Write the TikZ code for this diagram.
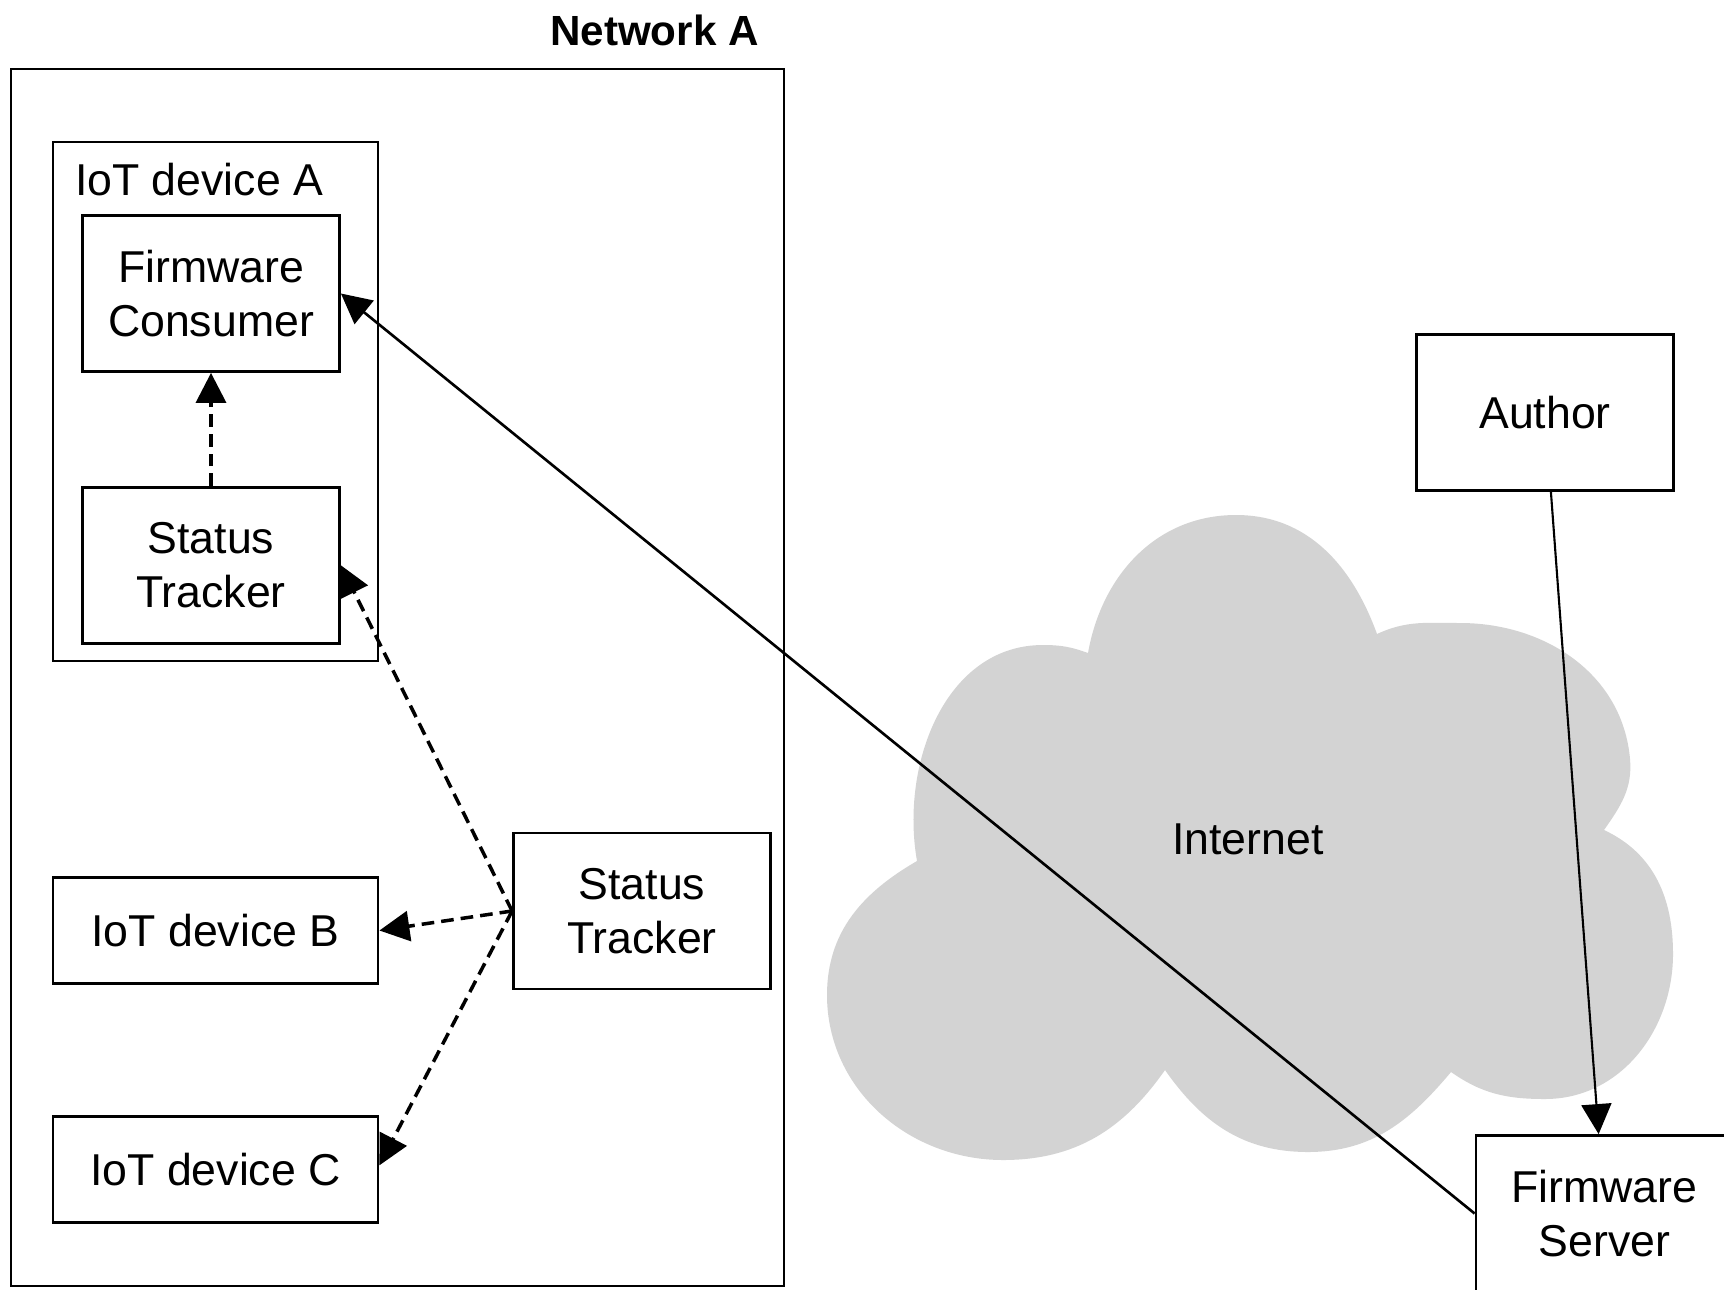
\documentclass[tikz,border=0pt]{standalone}
\usepackage{fontspec}
\setmainfont{Liberation Sans}
\usetikzlibrary{arrows.meta, positioning}

\definecolor{cloudgray}{RGB}{211,211,211}
\newcommand{\boxfont}{\fontsize{12.7}{15.3}\selectfont}

\begin{document}
\begin{tikzpicture}[> = {Triangle[length=3mm, width=3mm]}, % arrow head style
                node distance = 1.13cm, % gap between stacked boxes
                semithick % line style
            ]

            \tikzstyle{box}=[draw = black, thick, rectangle, align = center,
            inner sep = 0pt, font = \boxfont]
            \tikzstyle{wide}=[box, minimum width = 2.57cm, minimum height = 1.56cm]
            \tikzstyle{dev}=[box, minimum width = 3.25cm, minimum height = 1.06cm]
            \tikzstyle{flow}=[->, line width = 1pt, dash pattern = on 3.6pt off 2pt]

            \useasboundingbox (0,0) rectangle (17.24,12.89);
            \clip (0,0) rectangle (17.24,12.89);

            % the internet cloud
            \fill[cloudgray] (10.88,6.36) to[out=80,in=180] (12.36,7.74)
                to[out=0,in=110] (13.77,6.55) to[out=25,in=180] (14.6,6.66)
                to[out=0,in=95] (16.3,5.3) to[out=-85,in=55] (16.04,4.59)
                to[out=-25,in=90] (16.73,3.35) to[out=-90,in=0] (15.45,1.90)
                to[out=180,in=-35] (14.51,2.17) to[out=-130,in=0] (13.08,1.37)
                to[out=180,in=-55] (11.65,2.19) to[out=-125,in=0] (10.03,1.29)
                to[out=180,in=-90] (8.27,2.94) to[out=90,in=-150] (9.17,4.28)
                to[out=100,in=180] (10.43,6.44) to[out=0,in=160] (10.88,6.36)
                -- cycle;
            \node[font = \boxfont] (inet) at (12.48,4.50) {Internet};

            % network A with its devices
            \node[box, minimum width = 7.73cm, minimum height = 12.17cm]
            (neta) at (3.975,6.115) {};
            \node[anchor = base, font = \bfseries\fontsize{12}{14}\selectfont]
            (netlabel) at (6.545,12.43) {Network A};

            \node[box, minimum width = 3.25cm, minimum height = 5.19cm] (deva)
            at (2.155,8.875) {};
            \node[anchor = base west, inner sep = 0pt, font = \boxfont]
            (devalabel) at (0.74,10.94) {IoT device A};
            \node[wide] (consumer) at (2.11,9.955) {Firmware\\Consumer};
            \node[wide] (tracka) [below = of consumer] {Status\\Tracker};

            \node[dev] (devb) at (2.155,3.585) {IoT device B};
            \node[dev] (devc) [below = 1.3cm of devb] {IoT device C};
            \node[wide] (tracker) at (6.42,3.78) {Status\\Tracker};

            % outside the network
            \node[wide] (author) at (15.45,8.765) {Author};
            \node[wide] (server) at (16.045,0.755) {Firmware\\Server};

            \path[flow] (tracka) edge (consumer);
            \path[flow] (tracker.west) edge (tracka.east);
            \path[flow] (tracker.west) edge (devb.east);
            \path[flow] (tracker.west) edge ([yshift=0.4mm]devc.east);
            \path[->, line width = 0.75pt] (server.west) edge (consumer.east);
            \path[->] (author) edge (server);
        \end{tikzpicture}
\end{document}
